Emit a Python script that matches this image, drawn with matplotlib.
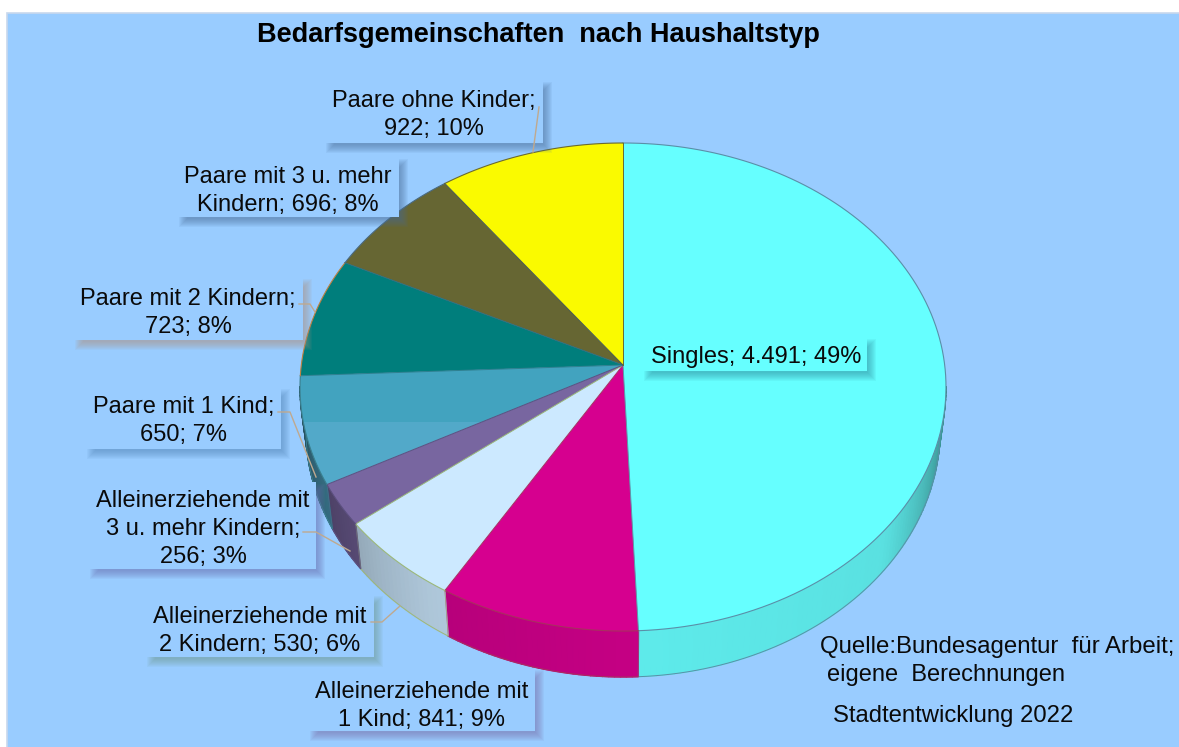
#!/usr/bin/env python3
# Tilted pie chart of Bedarfsgemeinschaften, drawn by hand so the apex can sit
# off the ellipse centre and the rim can get some shading.

import numpy as np
import matplotlib
matplotlib.use('Agg')
import matplotlib.pyplot as plt
from matplotlib.patches import Rectangle

plt.rcParams['font.family'] = ['Liberation Sans', 'DejaVu Sans']

# -------------------------------------------
# The data, clockwise from the top
categories = ['Singles', 'Alleinerziehende mit 1 Kind', 'Alleinerziehende mit 2 Kindern',
              'Alleinerziehende mit 3 u. mehr Kindern', 'Paare mit 1 Kind', 'Paare mit 2 Kindern',
              'Paare mit 3 u. mehr Kindern', 'Paare ohne Kinder']
values = [4491, 841, 530, 256, 650, 723, 696, 922]
percents = [49, 9, 6, 3, 7, 8, 8, 10]

labelLines = [['Singles; 4.491; 49%'],
              ['Alleinerziehende mit', '1 Kind; 841; 9%'],
              ['Alleinerziehende mit', '2 Kindern; 530; 6%'],
              ['Alleinerziehende mit', '3 u. mehr Kindern;', '256; 3%'],
              ['Paare mit 1 Kind;', '650; 7%'],
              ['Paare mit 2 Kindern;', '723; 8%'],
              ['Paare mit 3 u. mehr', 'Kindern; 696; 8%'],
              ['Paare ohne Kinder;', '922; 10%']]

title = 'Bedarfsgemeinschaften  nach Haushaltstyp'

# -------------------------------------------
# Styles and layout (the axes run in pixels of the picture)
panelColor = '#99CCFF'
colors = ['#66FFFF', '#D6008F', '#CCE9FF', '#7866A0', '#52A9C9', '#007E7C', '#666633', '#FAFA00']
arcColors = ['#5a8fa8', '#a8305f', '#9cb87a', '#5c5080', '#3a8090', '#c08040', '#4a6a80', '#6a6a30']
radialColors = ['#5a9aa8', '#a8305f', '#9cb87a', '#5c5080', '#2f8090', '#2f6f80', '#4a5a50', '#6a6a30']
shadows = ['#2f8f9f', '#7a70a8', '#6f9a90', '#6a70b0', '#5588bb', '#b09080', '#4a6f9a', '#4a6f9a']

apexShift = 0.09     # how far the apex sits above the ellipse centre, as part of the radius
topCentre = (623, 387)
topRadii = (323, 244)
lowCentre = (623, 430)
lowRadii = (317, 247)

# box: left, top, right, bottom; then the centre x and the y of each text line
boxes = [(643, 337, 867, 371), (309, 668, 535, 731), (146, 594, 374, 657), (89, 482, 316, 569),
         (86, 387, 281, 449), (74, 277, 303, 340), (178, 157, 399, 217), (325, 80, 543, 143)]
textX = [756, 422, 260, 203, 184, 188, 288, 434]
textY = [[357], [692, 720], [617, 645], [501, 529, 557], [407, 435], [299, 327], [177, 205], [101, 129]]
leaders = [None, None,
           [(371, 622), (382, 622), (400, 606)],
           [(303, 532), (316, 532), (350, 551)],
           [(278, 412), (290, 412), (316, 477)],
           [(299, 304), (310, 304), (315, 312)],
           None,
           [(539, 107), (533, 152)]]


def ringPoint(deg, centre, radii):
    # a circle seen in perspective: slice angles are bent so that all borders meet at the apex
    rad = np.deg2rad(deg)
    x = np.cos(rad)
    y = np.sin(rad)
    scale = 1 + apexShift * y
    u = x * np.sqrt(1 - apexShift ** 2) / scale
    v = (y + apexShift) / scale
    return centre[0] + radii[0] * u, centre[1] - radii[1] * v


def rimShade(deg):
    # the rim is brightest at the front and falls off to both sides
    return np.interp(deg % 360, [180, 205, 225, 236, 272, 320, 355, 360],
                     [0.42, 0.62, 0.78, 0.85, 0.92, 0.88, 0.5, 0.45])


fig = plt.figure(figsize=(11.79, 7.47), dpi=100)
ax = fig.add_axes([0, 0, 1, 1])
ax.set_xlim(0, 1179)
ax.set_ylim(747, 0)
ax.axis('off')

ax.add_patch(Rectangle((7, 13), 1180, 740, facecolor=panelColor, edgecolor='#c8d8ec', linewidth=1.2))

# angles of the slice borders, going clockwise from 90 degrees
borders = 90 - 360 * np.concatenate(([0], np.cumsum(values))) / np.sum(values)
apex = (topCentre[0], topCentre[1] - apexShift * topRadii[1])

# rim first, in thin strips so it can be shaded
for i in range(len(values)):
    hi = min(borders[i], -5)
    lo = max(borders[i + 1], -175)
    if hi <= lo:
        continue
    steps = np.linspace(hi, lo, int(hi - lo) + 2)
    base = np.array(matplotlib.colors.to_rgb(colors[i]))
    for a, b in zip(steps[:-1], steps[1:]):
        shade = tuple(base * rimShade((a + b) / 2))
        x1, y1 = ringPoint(a, topCentre, topRadii)
        x2, y2 = ringPoint(b, topCentre, topRadii)
        x3, y3 = ringPoint(b, lowCentre, lowRadii)
        x4, y4 = ringPoint(a, lowCentre, lowRadii)
        ax.fill([x1, x2, x3, x4], [y1, y2, y3, y4], facecolor=shade, edgecolor=shade, linewidth=1.0, zorder=2)
    arc = np.linspace(hi, lo, 60)
    x, y = ringPoint(arc, lowCentre, lowRadii)
    ax.plot(x, y, color=arcColors[i], linewidth=0.7, zorder=2.5)
    for deg in (hi, lo):
        if -175 < deg < -5:
            xa, ya = ringPoint(deg, topCentre, topRadii)
            xb, yb = ringPoint(deg, lowCentre, lowRadii)
            ax.plot([xa, xb], [ya, yb], color=arcColors[i], linewidth=0.5, alpha=0.6, zorder=2.5)

# top face
for i in range(len(values)):
    arc = np.linspace(borders[i], borders[i + 1], 120)
    x, y = ringPoint(arc, topCentre, topRadii)
    ax.fill(np.r_[apex[0], x], np.r_[apex[1], y], facecolor=colors[i], edgecolor='none', zorder=3)
    # the Paare mit 1 Kind slice has a darker band in its upper part
    if i == 4:
        band = ax.fill(np.r_[apex[0], x], np.r_[apex[1], y], facecolor='#42A3BF', edgecolor='none', zorder=3.1)[0]
        band.set_clip_path(Rectangle((0, 0), 1179, 422, transform=ax.transData))
    ax.plot(x, y, color=arcColors[i], linewidth=0.8, zorder=3.2)
    ax.plot([apex[0], x[-1]], [apex[1], y[-1]], color=radialColors[i], linewidth=0.7, zorder=3.2)

# leader lines
for pts in leaders:
    if pts is not None:
        ax.plot([p[0] for p in pts], [p[1] for p in pts], color='#bfa98f', linewidth=1.0, zorder=6)

# label boxes with a soft shadow
for i, box in enumerate(boxes):
    left, top, right, bottom = box
    for k in range(9):
        grow = 4 - k
        ax.add_patch(Rectangle((left + 5 - grow, top + 6 - grow), right - left + 2 * grow, bottom - top + 2 * grow,
                               facecolor=shadows[i], edgecolor='none', alpha=0.08, zorder=4))
    face = colors[0] if i == 0 else panelColor
    ax.add_patch(Rectangle((left, top), right - left, bottom - top, facecolor=face, edgecolor='none', zorder=5))
    for line, y in zip(labelLines[i], textY[i]):
        ax.text(textX[i], y, line, ha='center', va='center', fontsize=17, color='#0a0a0a', zorder=7)

ax.text(538, 35, title, ha='center', va='center', fontsize=19.5, fontweight='bold', color='black')

ax.text(820, 647, 'Quelle:Bundesagentur  für Arbeit;', ha='left', va='center', fontsize=17.3, color='#0a0a0a')
ax.text(827, 675, 'eigene  Berechnungen', ha='left', va='center', fontsize=17, color='#0a0a0a')
ax.text(833, 716, 'Stadtentwicklung 2022', ha='left', va='center', fontsize=17.2, color='#0a0a0a')

fig.savefig('out.png', dpi=100, facecolor='white')
